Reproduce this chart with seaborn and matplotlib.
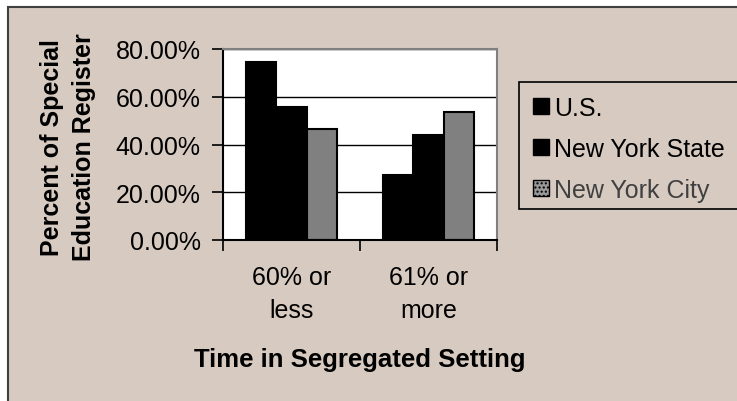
import numpy as np
import pandas as pd
import seaborn as sns
import matplotlib
import matplotlib.pyplot as plt
from matplotlib.patches import Patch, Rectangle

sns.set_style("white")
matplotlib.rcParams["font.family"] = ["Liberation Sans", "DejaVu Sans"]
matplotlib.rcParams["text.color"] = "black"
matplotlib.rcParams["axes.labelcolor"] = "black"
matplotlib.rcParams["xtick.color"] = "black"
matplotlib.rcParams["ytick.color"] = "black"

# data
categories = ["60% or\nless", "61% or\nmore"]
series = ["U.S.", "New York State", "New York City"]
us_values = [0.744, 0.274]
nys_values = [0.558, 0.440]
nyc_values = [0.464, 0.538]

bg = "#D7CAC1"
bar_colors = {"U.S.": "#000000", "New York State": "#000000", "New York City": "#808080"}

df = pd.DataFrame(
    {
        "Category": categories * 3,
        "Series": [s for s in series for _ in categories],
        "Value": us_values + nys_values + nyc_values,
    }
)

W, H = 737, 402
fig = plt.figure(figsize=(W / 100, H / 100), dpi=100, facecolor="white")

# outer chart-area frame (right/bottom edges fall outside the picture)
fig.patches.append(
    Rectangle(
        (8 / W, -0.1), 1.2, 1 - 8 / H + 0.1,
        transform=fig.transFigure, facecolor=bg, edgecolor="#404040",
        linewidth=1.5, zorder=-10,
    )
)
# legend box, which also runs past the right edge of the picture
fig.patches.append(
    Rectangle(
        (519 / W, 1 - 210 / H), 0.4, 127 / H,
        transform=fig.transFigure, facecolor=bg, edgecolor="black",
        linewidth=1.2, zorder=-5,
    )
)

ax = fig.add_axes([223 / W, 1 - 241 / H, 274 / W, 191 / H])
ax.set_facecolor("white")

sns.barplot(
    data=df, x="Category", y="Value", hue="Series", order=categories,
    hue_order=series, palette=bar_colors, width=0.67, gap=0,
    edgecolor="black", linewidth=1.5, errorbar=None, legend=False, ax=ax,
)

ax.set_xlim(-0.5, 1.5)
ax.set_ylim(0, 0.8)
ax.set_yticks([0, 0.2, 0.4, 0.6, 0.8])
ax.set_yticklabels([f"{v * 100:.2f}%" for v in [0, 0.2, 0.4, 0.6, 0.8]])
ax.yaxis.grid(True, color="black", linewidth=1.0)
ax.set_axisbelow(True)

ax.set_xticks([-0.5, 0.5, 1.5])
ax.set_xticklabels([])
ax.set_xticks([0, 1], minor=True)
ax.set_xticklabels(categories, minor=True, fontsize=18, linespacing=1.5)
ax.tick_params(axis="x", which="major", direction="out", length=8, width=1.2,
               bottom=True)
ax.tick_params(axis="x", which="minor", length=0, pad=18, bottom=True)
ax.tick_params(axis="y", direction="out", length=8, width=1.2,
               labelsize=18, pad=8, left=True)

for side in ["top", "right"]:
    ax.spines[side].set_color("#808080")
    ax.spines[side].set_linewidth(1.5)
for side in ["left", "bottom"]:
    ax.spines[side].set_color("black")
    ax.spines[side].set_linewidth(1.5)

ax.set_xlabel("Time in Segregated Setting", fontsize=18.5, fontweight="bold")
ax.xaxis.set_label_coords(0.5, -0.625)
ax.xaxis.label.set_va("center")
ax.set_ylabel("Percent of Special\nEducation Register", fontsize=18,
              fontweight="bold", linespacing=1.4)
ax.yaxis.set_label_coords(-0.565, 0.49)
ax.yaxis.label.set_va("center")

handles = [
    Patch(facecolor="black", edgecolor="black"),
    Patch(facecolor="black", edgecolor="black"),
    Patch(facecolor="#9a9a9a", edgecolor="black", hatch="....", linewidth=1),
]
leg = fig.legend(
    handles, series, loc="upper left", bbox_to_anchor=(519 / W, 1 - 83 / H),
    fontsize=18, frameon=False, handlelength=0.65, handleheight=0.65,
    handletextpad=0.2, labelspacing=0.68, borderpad=0.55, borderaxespad=0,
)
leg.get_texts()[2].set_color("#404040")

fig.savefig("out.png", dpi=100, facecolor="white")
